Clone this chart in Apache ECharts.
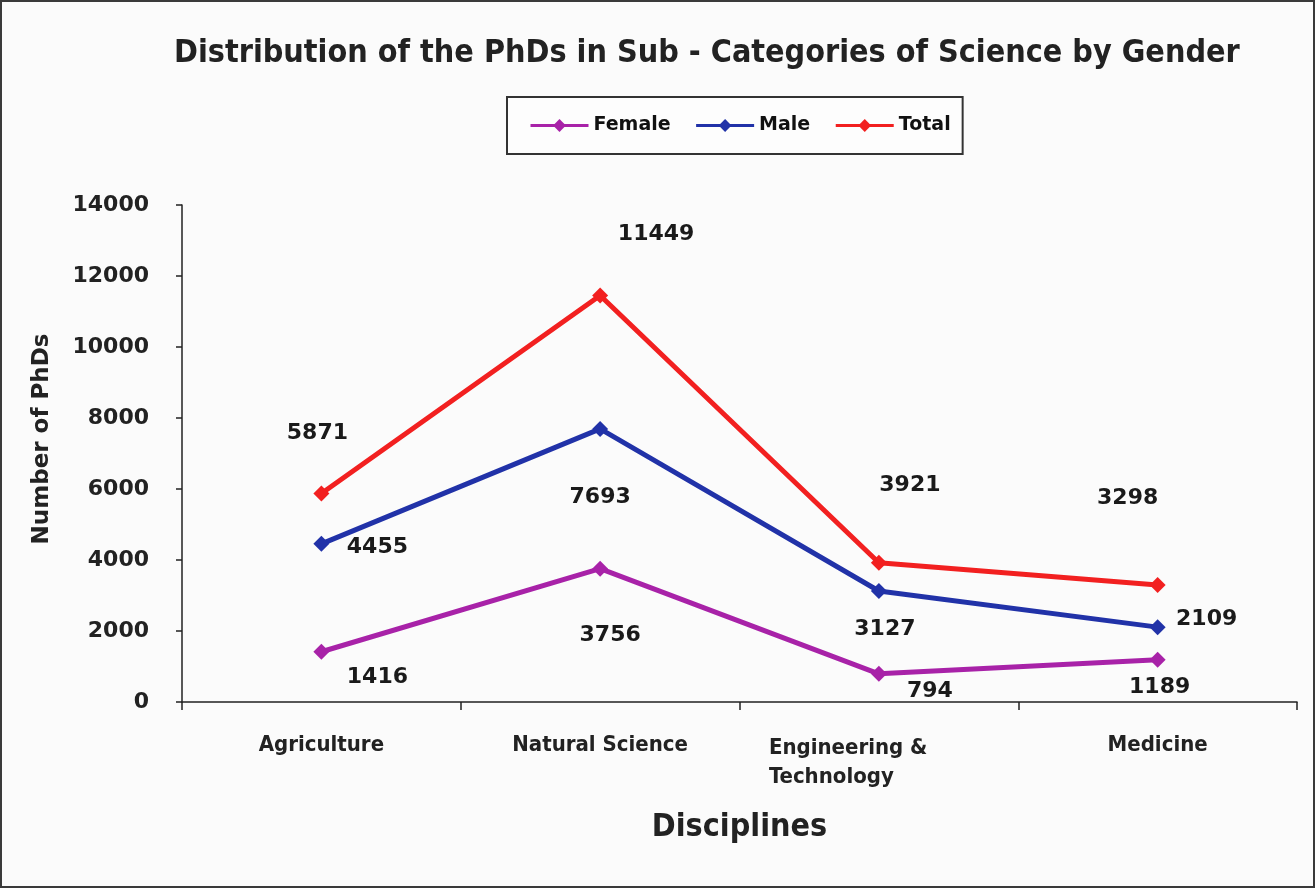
<!DOCTYPE html>
<html>
<head>
<meta charset="utf-8">
<script src="https://cdn.jsdelivr.net/npm/echarts@6/dist/echarts.min.js"></script>
<style>
html,body{margin:0;padding:0;background:#fbfbfb;}
#wrap{position:absolute;left:0;top:0;width:1311px;height:884px;border:2px solid #3a3a3a;}
#c{width:1311px;height:884px;}
</style>
</head>
<body>
<div id="wrap"><div id="c"></div></div>
<script>
const categories = ['Agriculture', 'Natural Science', 'Engineering & Technology', 'Medicine'];
const female = [1416, 3756, 794, 1189];
const male = [4455, 7693, 3127, 2109];
const total = [5871, 11449, 3921, 3298];
const yTicks = [0, 2000, 4000, 6000, 8000, 10000, 12000, 14000];

// label offsets (pixel placement of value labels relative to markers)
const offFemale = [[56, 26], [10, 67], [51, 17], [2, 27]];
const offMale = [[56, 3], [0, 68], [6, 38], [49, -8]];
const offTotal = [[-4, -60], [56, -61], [31, -78], [-30, -87]];

const WIDE = 'DejaVu Sans, Verdana, sans-serif';
const COND = 'DejaVu Sans Condensed, Liberation Sans Narrow, sans-serif';

const labelStyle = {
  show: true, position: 'inside', color: '#1a1a1a',
  fontFamily: WIDE, fontWeight: 'bold', fontSize: 22
};

function mk(name, vals, offs, color) {
  return {
    name: name, type: 'line', data: vals.map((v, i) => ({
      value: v, label: Object.assign({}, labelStyle, { offset: offs[i] })
    })),
    symbol: 'diamond', symbolSize: 16,
    lineStyle: { color: color, width: 5 },
    itemStyle: { color: color },
    label: labelStyle,
    animation: false
  };
}

const chart = echarts.init(document.getElementById('c'), null, { renderer: 'canvas' });
chart.setOption({
  backgroundColor: '#fbfbfb',
  graphic: [{
    type: 'text', left: 172, top: 36,
    style: {
      text: 'Distribution of the PhDs in Sub - Categories of Science by Gender',
      fill: '#222', font: 'bold 32px ' + COND
    }
  }, {
    type: 'text', x: 40, y: 437, rotation: Math.PI / 2,
    style: {
      text: 'Number of PhDs', fill: '#222', font: 'bold 23px ' + WIDE,
      textAlign: 'center', textVerticalAlign: 'middle'
    }
  }],
  legend: {
    top: 95, left: 505,
    data: ['Female', 'Male', 'Total'],
    borderColor: '#333', borderWidth: 2, backgroundColor: '#fdfdfd',
    padding: [19, 12, 19, 22], itemGap: 24, itemWidth: 58, itemHeight: 16,
    lineStyle: { width: 3 },
    textStyle: { fontFamily: WIDE, fontWeight: 'bold', fontSize: 19, color: '#111' }
  },
  grid: { left: 180, right: 16, top: 203, bottom: 184, containLabel: false },
  xAxis: {
    type: 'category', data: categories, boundaryGap: true,
    axisLine: { lineStyle: { color: '#222', width: 1.5 } },
    axisTick: { show: true, length: 8, lineStyle: { color: '#222', width: 1.5 } },
    axisLabel: {
      margin: 32, color: '#222', interval: 0,
      fontFamily: COND, fontWeight: 'bold', fontSize: 22,
      formatter: function (v) {
        if (v === 'Engineering & Technology') return '{e|Engineering &}\n{e|Technology}';
        return v;
      },
      rich: { e: { width: 220, align: 'left', fontFamily: COND, fontWeight: 'bold', fontSize: 22, color: '#222', lineHeight: 29 } }
    },
    name: 'Disciplines', nameLocation: 'middle', nameGap: 110,
    nameTextStyle: { fontFamily: COND, fontWeight: 'bold', fontSize: 32, color: '#222' }
  },
  yAxis: {
    type: 'value', min: yTicks[0], max: yTicks[yTicks.length - 1], interval: 2000,
    axisLine: { show: true, lineStyle: { color: '#222', width: 1.5 } },
    axisTick: { show: true, length: 6, lineStyle: { color: '#222', width: 1.5 } },
    splitLine: { show: false },
    axisLabel: {
      margin: 33, color: '#222',
      fontFamily: WIDE, fontWeight: 'bold', fontSize: 22,
      formatter: function (v) { return String(v); }
    }
  },
  series: [
    mk('Female', female, offFemale, '#a822a8'),
    mk('Male', male, offMale, '#2132a8'),
    mk('Total', total, offTotal, '#f22020')
  ]
});
</script>
</body>
</html>
